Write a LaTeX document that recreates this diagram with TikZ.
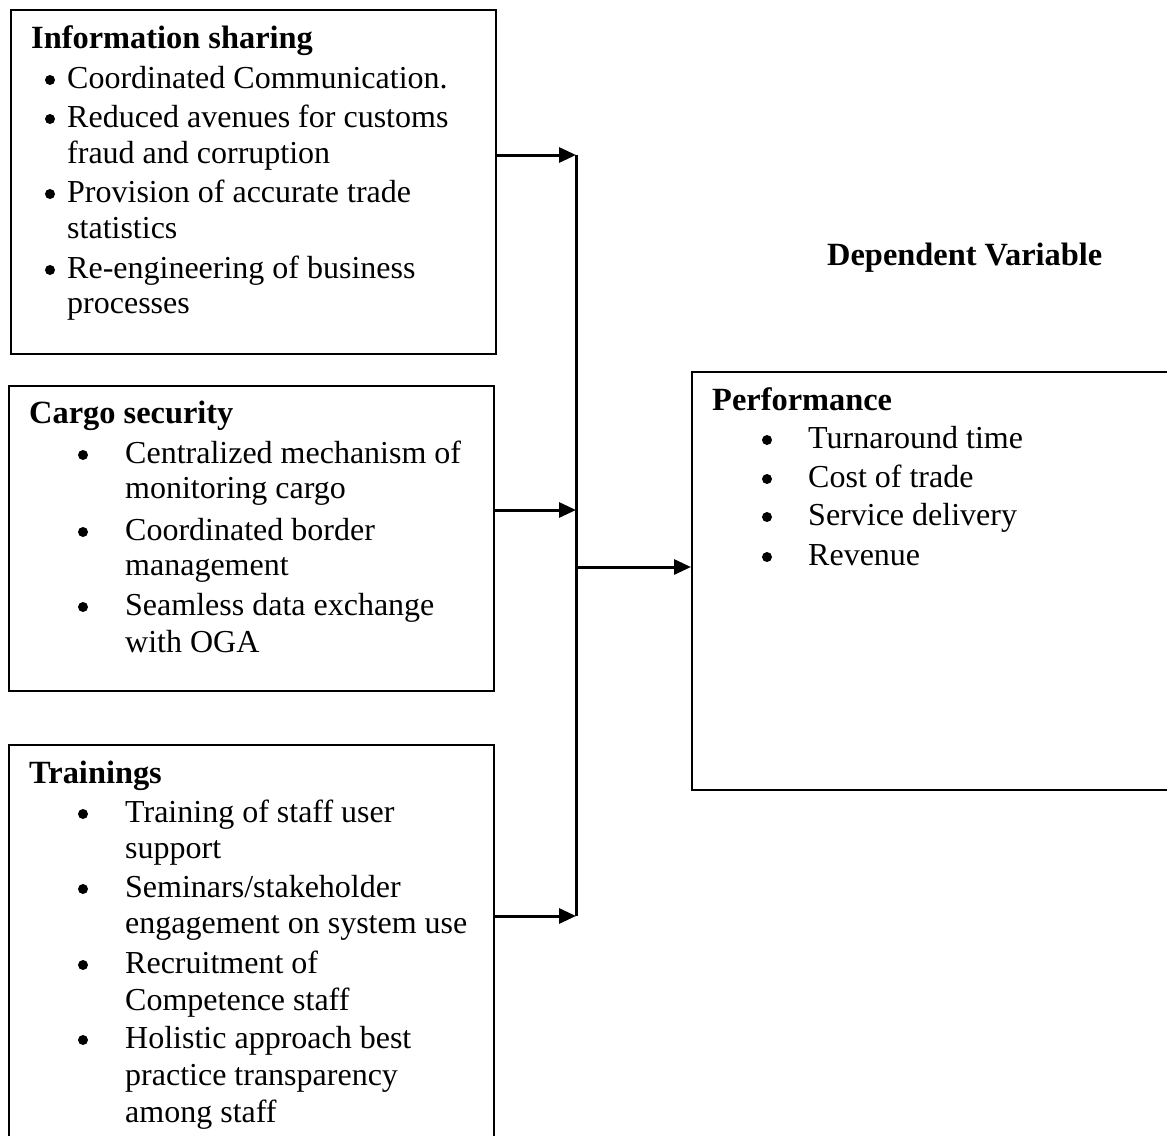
\documentclass[tikz,border=0pt]{standalone}
\usepackage{fontspec}
\setmainfont{Liberation Serif}
\usetikzlibrary{arrows.meta}
\begin{document}
\begin{tikzpicture}[x=1pt,y=-1pt,
  box/.style={draw,line width=2.4pt,inner sep=0pt,anchor=north west},
  txt/.style={anchor=base west,inner sep=0pt,font=\fontsize{32}{37.6}\selectfont},
  hd/.style={anchor=base west,inner sep=0pt,font=\fontsize{32.4}{37.6}\selectfont\bfseries},
  bul/.style={circle,fill=black,inner sep=0pt,minimum size=10pt},
  arr/.style={line width=3pt,-{Triangle[length=17pt,width=15pt]}},
  ln/.style={line width=3pt}]
\clip (0,0) rectangle (1167,1135);
% boxes
\node[box,minimum width=485,minimum height=344] (b1) at (10,9) {};
\node[box,minimum width=485,minimum height=305] (b2) at (8,385) {};
\node[box,minimum width=485,minimum height=406] (b4) at (8,744) {};
\node[box,minimum width=484,minimum height=418] (b3) at (691,371) {};
% box 1 text
\node[hd] (h1) at (31,48) {Information sharing};
\node[bul] (p11) at (50,80) {};
\node[txt] (a11) at (67,88) {Coordinated Communication.};
\node[bul] (p12) at (50,119) {};
\node[txt] (a12) at (67,127) {Reduced avenues for customs};
\node[txt] (a13) at (67,163) {fraud and corruption};
\node[bul] (p13) at (50,194) {};
\node[txt] (a14) at (67,202) {Provision of accurate trade};
\node[txt] (a15) at (67,238) {statistics};
\node[bul] (p14) at (50,270) {};
\node[txt] (a16) at (67,278) {Re-engineering of business};
\node[txt] (a17) at (67,313) {processes};
% box 2 text
\node[hd] (h2) at (29,423) {Cargo security};
\node[bul] (p21) at (83,455) {};
\node[txt] (a21) at (125,463) {Centralized mechanism of};
\node[txt] (a22) at (125,498) {monitoring cargo};
\node[bul] (p22) at (83,532) {};
\node[txt] (a23) at (125,540) {Coordinated border};
\node[txt] (a24) at (125,575) {management};
\node[bul] (p23) at (83,607) {};
\node[txt] (a25) at (125,615) {Seamless data exchange};
\node[txt] (a26) at (125,652) {with OGA};
% box 4 text
\node[hd] (h4) at (29,783) {Trainings};
\node[bul] (p41) at (83,814) {};
\node[txt] (a41) at (125,822) {Training of staff user};
\node[txt] (a42) at (125,858) {support};
\node[bul] (p42) at (83,889) {};
\node[txt] (a43) at (125,897) {Seminars/stakeholder};
\node[txt] (a44) at (125,933) {engagement on system use};
\node[bul] (p43) at (83,965) {};
\node[txt] (a45) at (125,973) {Recruitment of};
\node[txt] (a46) at (125,1010) {Competence staff};
\node[bul] (p44) at (83,1040) {};
\node[txt] (a47) at (125,1048) {Holistic approach best};
\node[txt] (a48) at (125,1085) {practice transparency};
\node[txt] (a49) at (125,1122) {among staff};
% box 3 text
\node[hd] (h3) at (712,410) {Performance};
\node[bul] (p31) at (767,440) {};
\node[txt] (a31) at (808,448) {Turnaround time};
\node[bul] (p32) at (767,479) {};
\node[txt] (a32) at (808,487) {Cost of trade};
\node[bul] (p33) at (767,517) {};
\node[txt] (a33) at (808,525) {Service delivery};
\node[bul] (p34) at (767,557) {};
\node[txt] (a34) at (808,565) {Revenue};
% dependent variable
\node[hd] (dv) at (827,265) {Dependent Variable};
% connectors
\coordinate (j1) at (576,155);
\coordinate (j2) at (576,510);
\coordinate (j3) at (576,567);
\coordinate (j4) at (576,916);
\draw[ln] (j1) -- (j4);
\draw[arr] (b1.east |- j1) -- (j1);
\draw[arr] (b2.east |- j2) -- (j2);
\draw[arr] (b4.east |- j4) -- (j4);
\draw[arr] (j3) -- (j3 -| b3.west);
\end{tikzpicture}
\end{document}
